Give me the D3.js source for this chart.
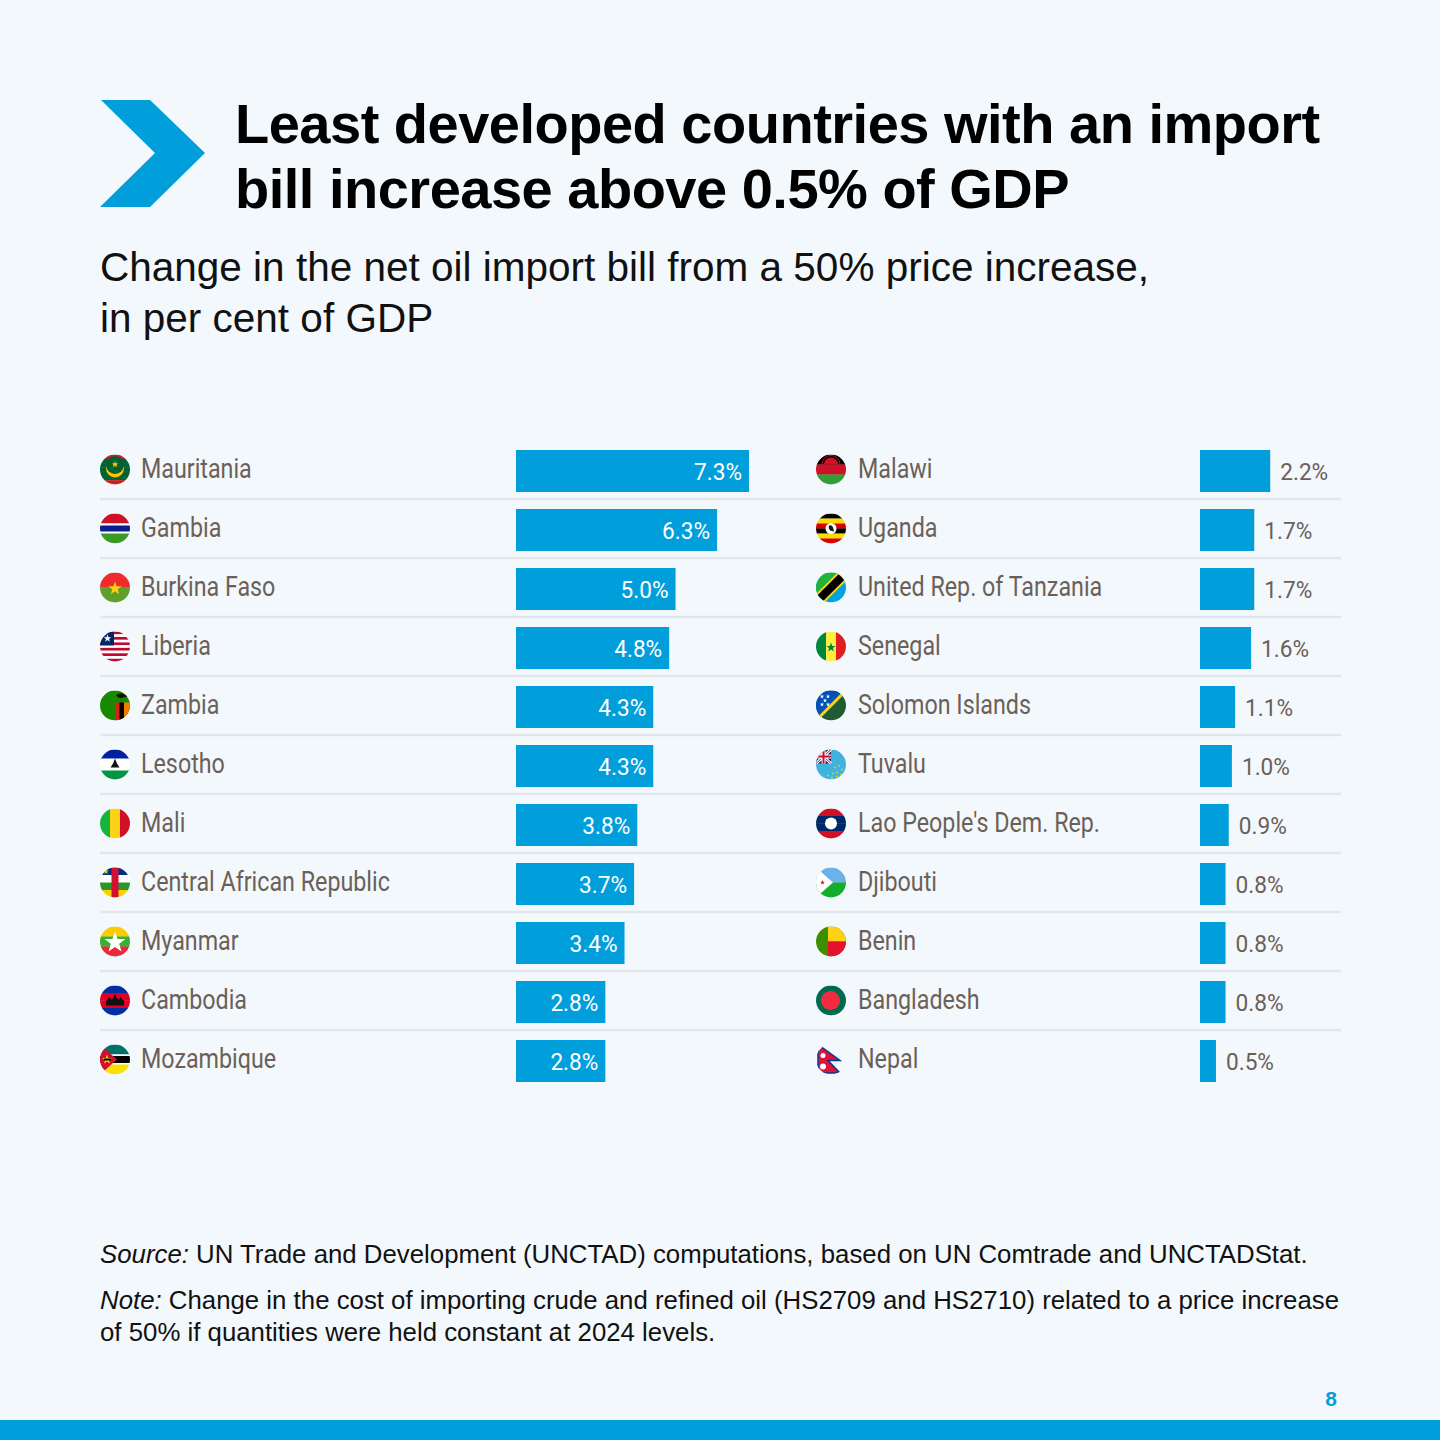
<!DOCTYPE html>
<html lang="en">

<head>
    <meta charset="UTF-8" />
    <title>LDC oil import bill</title>
    <script src="https://d3js.org/d3.v7.min.js"></script>
    <style>
        body {
            margin: 0;
            background: #f3f8fc;
        }

        svg {
            display: block;
        }

        .title {
            font-family: "Liberation Sans", Arial, sans-serif;
            font-weight: bold;
            font-size: 56px;
            letter-spacing: -0.5px;
            fill: #000;
        }

        .subtitle {
            font-family: "Liberation Sans", Arial, sans-serif;
            font-size: 40.5px;
            fill: #111;
        }

        .name,
        .value {
            font-family: Roboto, "Liberation Sans", sans-serif;
        }

        .name {
            font-size: 28px;
            fill: #6b6058;
        }

        .value {
            font-size: 23.5px;
        }

        .foot {
            font-family: "Liberation Sans", Arial, sans-serif;
            font-size: 25.8px;
            fill: #111;
        }
    </style>
</head>

<body>
    <svg id="chart" width="1440" height="1440"></svg>

    <script>
        // values (% of GDP)
        const leftCountries = ["Mauritania", "Gambia", "Burkina Faso", "Liberia", "Zambia", "Lesotho",
            "Mali", "Central African Republic", "Myanmar", "Cambodia", "Mozambique"];
        const leftValues = [7.3, 6.3, 5.0, 4.8, 4.3, 4.3, 3.8, 3.7, 3.4, 2.8, 2.8];

        const rightCountries = ["Malawi", "Uganda", "United Rep. of Tanzania", "Senegal", "Solomon Islands",
            "Tuvalu", "Lao People's Dem. Rep.", "Djibouti", "Benin", "Bangladesh", "Nepal"];
        const rightValues = [2.2, 1.7, 1.7, 1.6, 1.1, 1.0, 0.9, 0.8, 0.8, 0.8, 0.5];

        const titleLines = ["Least developed countries with an import", "bill increase above 0.5% of GDP"];
        const subtitleLines = ["Change in the net oil import bill from a 50% price increase,", "in per cent of GDP"];

        const W = 1440, H = 1440;
        const blue = "#009edb";
        const grey = "#6b6058";

        const svg = d3.select("#chart");

        svg.append("rect").attr("width", W).attr("height", H).attr("fill", "#f3f8fc");

        // header chevron
        svg.append("path")
            .attr("d", "M101,100 L150,100 L205,153 L150,207 L100,207 L155,153 Z")
            .attr("fill", blue);

        svg.selectAll("text.title")
            .data(titleLines)
            .join("text")
            .attr("class", "title")
            .attr("x", 235)
            .attr("y", (d, i) => 143 + i * 65)
            .text(d => d);

        svg.selectAll("text.subtitle")
            .data(subtitleLines)
            .join("text")
            .attr("class", "subtitle")
            .attr("x", 100)
            .attr("y", (d, i) => 281 + i * 51)
            .text(d => d);

        // the labels in the picture use a condensed face; squeeze a normal one to the same width
        function squeeze(cls, sample, target) {
            const t = svg.append("text").attr("class", cls).text(sample);
            const w = t.node().getComputedTextLength();
            t.remove();
            return target / w;
        }
        const nameScale = squeeze("name", "Central African Republic", 249);
        const valueScale = squeeze("value", "7.3%", 48);

        // ---- flags (small circular icons) ----
        function star(cx, cy, R) {
            const pts = [];
            for (let i = 0; i < 10; i++) {
                const r = i % 2 === 0 ? R : R * 0.4;
                const a = -Math.PI / 2 + i * Math.PI / 5;
                pts.push([cx + r * Math.cos(a), cy + r * Math.sin(a)]);
            }
            return "M" + pts.map(p => p.join(",")).join("L") + "Z";
        }

        function rect(g, x, y, w, h, fill) {
            g.append("rect").attr("x", x).attr("y", y).attr("width", w).attr("height", h).attr("fill", fill);
        }

        function hStripes(g, colors) {
            const h = 30 / colors.length;
            colors.forEach((c, i) => rect(g, -15, -15 + i * h, 30, h + 0.3, c));
        }

        function vStripes(g, colors) {
            const w = 30 / colors.length;
            colors.forEach((c, i) => rect(g, -15 + i * w, -15, w + 0.3, 30, c));
        }

        function poly(g, d, fill) {
            g.append("path").attr("d", d).attr("fill", fill);
        }

        const flags = {
            "Mauritania": g => {
                hStripes(g, ["#d01c1f", "#006233", "#006233", "#006233", "#006233", "#006233", "#d01c1f"]);
                g.append("circle").attr("cx", 0).attr("cy", -1).attr("r", 9).attr("fill", "#ffc400");
                g.append("circle").attr("cx", 0).attr("cy", -4.5).attr("r", 9).attr("fill", "#006233");
                poly(g, star(0, -5, 3.5), "#ffc400");
            },
            "Gambia": g => {
                rect(g, -15, -15, 30, 10, "#ce1126");
                rect(g, -15, -5, 30, 10, "#fff");
                rect(g, -15, -3, 30, 6, "#0c1c8c");
                rect(g, -15, 5, 30, 10, "#3a9a28");
            },
            "Burkina Faso": g => {
                hStripes(g, ["#ef2b2d", "#5f9f2a"]);
                poly(g, star(0, 1, 7), "#fcd116");
            },
            "Liberia": g => {
                const cols = d3.range(11).map(i => i % 2 === 0 ? "#bf0a30" : "#fff");
                hStripes(g, cols);
                rect(g, -15, -15, 14, 14, "#002868");
                poly(g, star(-7.5, -8, 4), "#fff");
            },
            "Zambia": g => {
                rect(g, -15, -15, 30, 30, "#198a00");
                rect(g, 0, -3, 4.5, 18, "#de2010");
                rect(g, 4.5, -3, 4.5, 18, "#000");
                rect(g, 9, -3, 6, 18, "#ef7d00");
                poly(g, "M1,-10 Q5,-14 9,-11 Q12,-12 13,-9 L8,-8 Q5,-6 1,-10 Z", "#111");
            },
            "Lesotho": g => {
                hStripes(g, ["#00209f", "#fff", "#009543"]);
                rect(g, -15, -6, 30, 12, "#fff");
                poly(g, "M0,-6 L2,-1 L4.5,3 L-4.5,3 L-2,-1 Z", "#111");
            },
            "Mali": g => vStripes(g, ["#14b53a", "#fcd116", "#ce1126"]),
            "Central African Republic": g => {
                hStripes(g, ["#003082", "#fff", "#289728", "#ffce00"]);
                rect(g, -3.5, -15, 7, 30, "#d21034");
                poly(g, star(-9, -11, 3), "#ffce00");
            },
            "Myanmar": g => {
                hStripes(g, ["#fecb00", "#34b233", "#ea2839"]);
                poly(g, star(0, 1, 11), "#fff");
            },
            "Cambodia": g => {
                hStripes(g, ["#032ea1", "#e00025", "#e00025", "#032ea1"]);
                poly(g, "M-9,5 L-9,0 L-7,-1 L-6,-4 L-4,-1 L-2,-2 L0,-7 L2,-2 L4,-1 L6,-4 L7,-1 L9,0 L9,5 Z", "#111");
            },
            "Mozambique": g => {
                rect(g, -15, -15, 30, 10, "#007168");
                rect(g, -15, -5, 30, 10, "#fff");
                rect(g, -15, -3.5, 30, 7, "#000");
                rect(g, -15, 5, 30, 10, "#fce100");
                poly(g, "M-15,-15 L2,0 L-15,15 Z", "#d21034");
                poly(g, star(-8, 0, 5), "#fce100");
                rect(g, -11, -1, 7, 2, "#000");
            },
            "Malawi": g => {
                hStripes(g, ["#000", "#ce1126", "#339e35"]);
                g.append("path").attr("d", "M-7,-5 A7,7 0 0 1 7,-5 Z").attr("fill", "#ce1126");
                g.append("path").attr("d", "M-9,-5 A9,9 0 0 1 9,-5").attr("fill", "none")
                    .attr("stroke", "#ce1126").attr("stroke-width", 1);
            },
            "Uganda": g => {
                hStripes(g, ["#000", "#fcdc04", "#d90000", "#000", "#fcdc04", "#d90000"]);
                g.append("circle").attr("r", 5.5).attr("fill", "#fff");
                poly(g, "M-2,-3 Q1,-4 2,-1 L3,3 L-1,2 Q-3,0 -2,-3 Z", "#111");
            },
            "United Rep. of Tanzania": g => {
                rect(g, -15, -15, 30, 30, "#00a3dd");
                poly(g, "M-15,-15 L15,-15 L-15,15 Z", "#1eb53a");
                g.append("line").attr("x1", -16).attr("y1", 16).attr("x2", 16).attr("y2", -16)
                    .attr("stroke", "#fcd116").attr("stroke-width", 12);
                g.append("line").attr("x1", -16).attr("y1", 16).attr("x2", 16).attr("y2", -16)
                    .attr("stroke", "#000").attr("stroke-width", 8);
            },
            "Senegal": g => {
                vStripes(g, ["#00853f", "#fdef42", "#e31b23"]);
                poly(g, star(0, 1, 5), "#00853f");
            },
            "Solomon Islands": g => {
                rect(g, -15, -15, 30, 30, "#215b33");
                poly(g, "M-15,-15 L15,-15 L-15,15 Z", "#0051ba");
                g.append("line").attr("x1", -16).attr("y1", 16).attr("x2", 16).attr("y2", -16)
                    .attr("stroke", "#fcd116").attr("stroke-width", 3);
                [[-9, -8], [-3, -8], [-6, -4], [-9, 0], [-3, 0]].forEach(p =>
                    poly(g, star(p[0] , p[1] - 1, 2.2), "#fff"));
            },
            "Tuvalu": g => {
                rect(g, -15, -15, 30, 30, "#3fb3dc");
                rect(g, -15, -15, 15, 14, "#012169");
                g.append("path").attr("d", "M-15,-15 L0,-1 M0,-15 L-15,-1")
                    .attr("stroke", "#fff").attr("stroke-width", 3);
                g.append("path").attr("d", "M-15,-15 L0,-1 M0,-15 L-15,-1")
                    .attr("stroke", "#c8102e").attr("stroke-width", 1);
                rect(g, -9.5, -15, 4, 14, "#fff");
                rect(g, -15, -10, 15, 4, "#fff");
                rect(g, -8.5, -15, 2, 14, "#c8102e");
                rect(g, -15, -9, 15, 2, "#c8102e");
                [[4, 3], [8, 1], [11, 5], [2, 9], [6, 8], [10, 10], [-3, 11], [1, 13], [6, 12]].forEach(p =>
                    poly(g, star(p[0], p[1], 1.4), "#fcd116"));
            },
            "Lao People's Dem. Rep.": g => {
                hStripes(g, ["#ce1126", "#002868", "#002868", "#ce1126"]);
                g.append("circle").attr("r", 6).attr("fill", "#fff");
            },
            "Djibouti": g => {
                hStripes(g, ["#6ab2e7", "#12ad2b"]);
                poly(g, "M-15,-15 L2,0 L-15,15 Z", "#fff");
                poly(g, star(-8.5, 0, 2.6), "#d7141a");
            },
            "Benin": g => {
                rect(g, -15, -15, 30, 30, "#3d8e00");
                rect(g, -3, -15, 18, 15, "#fcd116");
                rect(g, -3, 0, 18, 15, "#e8112d");
            },
            "Bangladesh": g => {
                rect(g, -15, -15, 30, 30, "#006a4e");
                g.append("circle").attr("cx", -0.5).attr("r", 9.5).attr("fill", "#f42a41");
            },
            "Nepal": g => {
                g.append("path")
                    .attr("d", "M-13,-15 L9,1 L-3,1 L9,13.5 L-13,13.5 Z")
                    .attr("fill", "#dc143c").attr("stroke", "#003893").attr("stroke-width", 1.5)
                    .attr("stroke-linejoin", "miter");
                g.append("circle").attr("cx", -8).attr("cy", -4).attr("r", 2.5).attr("fill", "#fff");
                g.append("circle").attr("cx", -8).attr("cy", 7).attr("r", 3).attr("fill", "#fff");
            }
        };

        svg.append("defs").append("clipPath").attr("id", "flag-clip")
            .append("circle").attr("r", 15);

        // ---- bar table ----
        const rowTop = 440.5, rowStep = 59;
        const x = d3.scaleLinear().domain([0, 7.3]).range([0, 233]);

        const columns = [
            { countries: leftCountries, values: leftValues, flagX: 115, nameX: 141, barX: 516, inside: true },
            { countries: rightCountries, values: rightValues, flagX: 831, nameX: 858, barX: 1200, inside: false }
        ];

        const y = d3.scaleBand()
            .domain(d3.range(leftCountries.length))
            .range([rowTop, rowTop + rowStep * leftCountries.length]);

        // separators between rows, spanning both columns
        svg.selectAll("line.sep")
            .data(d3.range(1, leftCountries.length))
            .join("line")
            .attr("class", "sep")
            .attr("x1", 100).attr("x2", 1341)
            .attr("y1", d => y(d) - 0.5).attr("y2", d => y(d) - 0.5)
            .attr("stroke", "#e1e6ec")
            .attr("stroke-width", 2.5);

        columns.forEach(col => {
            const rows = col.countries.map((c, i) => ({ name: c, value: col.values[i], i }));
            const g = svg.append("g");

            const row = g.selectAll("g.row")
                .data(rows)
                .join("g")
                .attr("class", "row")
                .attr("transform", d => `translate(0,${y(d.i)})`);

            row.append("g")
                .attr("transform", `translate(${col.flagX},29)`)
                .append("g")
                .attr("clip-path", "url(#flag-clip)")
                .each(function (d) { flags[d.name](d3.select(this)); });

            row.append("text")
                .attr("class", "name")
                .attr("transform", `translate(${col.nameX},37) scale(${nameScale},1)`)
                .text(d => d.name);

            row.append("rect")
                .attr("x", col.barX)
                .attr("y", 9.5)
                .attr("width", d => x(d.value))
                .attr("height", 42)
                .attr("fill", blue);

            row.append("text")
                .attr("class", "value")
                .attr("transform", d => {
                    const tx = col.inside ? col.barX + x(d.value) - 7 : col.barX + x(d.value) + 10;
                    return `translate(${tx},39) scale(${valueScale},1)`;
                })
                .attr("text-anchor", col.inside ? "end" : "start")
                .attr("fill", col.inside ? "#fff" : grey)
                .text(d => d.value.toFixed(1) + "%");
        });

        // ---- footer ----
        const foot = svg.append("g").attr("class", "foot");
        const src = foot.append("text").attr("class", "foot").attr("x", 100).attr("y", 1263);
        src.append("tspan").attr("font-style", "italic").text("Source:");
        src.append("tspan").text(" UN Trade and Development (UNCTAD) computations, based on UN Comtrade and UNCTADStat.");

        const note = foot.append("text").attr("class", "foot").attr("x", 100).attr("y", 1309);
        note.append("tspan").attr("font-style", "italic").text("Note:");
        note.append("tspan").text(" Change in the cost of importing crude and refined oil (HS2709 and HS2710) related to a price increase");
        foot.append("text").attr("class", "foot").attr("x", 100).attr("y", 1341)
            .text("of 50% if quantities were held constant at 2024 levels.");

        svg.append("text")
            .attr("x", 1331).attr("y", 1406)
            .attr("text-anchor", "middle")
            .attr("font-family", "Liberation Sans, Arial, sans-serif")
            .attr("font-weight", "bold")
            .attr("font-size", 21)
            .attr("fill", blue)
            .text("8");

        svg.append("rect").attr("x", 0).attr("y", 1420).attr("width", W).attr("height", 20).attr("fill", blue);
    </script>
</body>

</html>
